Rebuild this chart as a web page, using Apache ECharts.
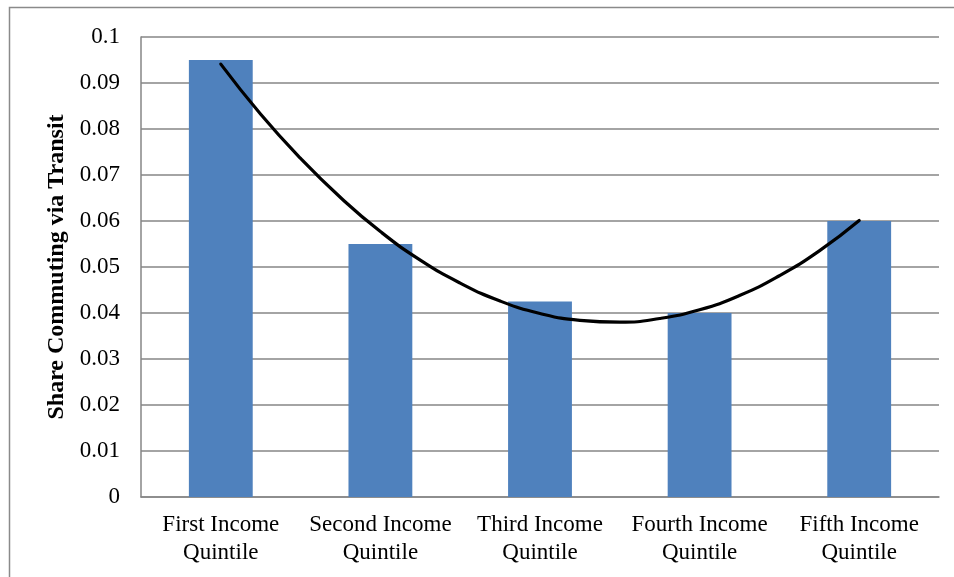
<!DOCTYPE html>
<html>
<head>
<meta charset="utf-8">
<script src="https://cdn.jsdelivr.net/npm/echarts@6/dist/echarts.min.js"></script>
<style>
html,body{margin:0;padding:0;background:#fff;}
#chart{width:954px;height:577px;}
</style>
</head>
<body>
<div id="chart"></div>
<script>
// Data
const categories = ["First Income Quintile", "Second Income Quintile", "Third Income Quintile", "Fourth Income Quintile", "Fifth Income Quintile"];
const shareTransit = [0.095, 0.055, 0.0425, 0.040, 0.060];
// Polynomial (order 2) trend line as seen in the picture, sampled at quarter-category steps
const trendX = [1, 1.25, 1.5, 1.75, 2, 2.25, 2.5, 2.75, 3, 3.25, 3.5, 3.75, 4, 4.25, 4.5, 4.75, 5];
const trendY = [0.0941, 0.0832, 0.0736, 0.0651, 0.0577, 0.0515, 0.0465, 0.0426, 0.0399, 0.0384, 0.0380, 0.0388, 0.0407, 0.0438, 0.0481, 0.0535, 0.0601];
const yTicks = {min: 0, max: 0.1, step: 0.01};
const yTitle = "Share Commuting via Transit";

const font = "'Liberation Serif', 'Times New Roman', serif";
const chart = echarts.init(document.getElementById('chart'), null, {renderer: 'canvas'});
chart.setOption({
  animation: false,
  backgroundColor: '#ffffff',
  graphic: [{
    type: 'rect', silent: true, z: 100,
    shape: {x: 9.5, y: 7.5, width: 1000, height: 1000},
    style: {fill: 'none', stroke: '#8a8a8a', lineWidth: 1.5}
  }],
  grid: {left: 141, right: 15, top: 37, bottom: 80, containLabel: false},
  xAxis: [{
    type: 'category',
    data: categories,
    axisLine: {show: true, lineStyle: {color: '#868686', width: 1.5}},
    axisTick: {show: false},
    axisLabel: {
      interval: 0,
      color: '#000',
      fontFamily: font,
      fontSize: 23,
      lineHeight: 28,
      margin: 14,
      formatter: v => v.replace(' Quintile', '\nQuintile')
    }
  }, {
    type: 'value', min: 0.5, max: 5.5, show: false
  }],
  yAxis: {
    type: 'value',
    min: yTicks.min, max: yTicks.max, interval: yTicks.step,
    name: yTitle,
    nameLocation: 'middle',
    nameGap: 71,
    nameTextStyle: {fontFamily: font, fontSize: 24, fontWeight: 'bold', color: '#000'},
    axisLine: {show: true, lineStyle: {color: '#868686', width: 1.5}},
    axisTick: {show: false},
    splitLine: {show: true, lineStyle: {color: '#868686', width: 1.5}},
    axisLabel: {
      color: '#000', fontFamily: font, fontSize: 23, margin: 21,
      formatter: v => String(+v.toFixed(2))
    }
  },
  series: [{
    type: 'bar',
    data: shareTransit,
    barWidth: '40%',
    itemStyle: {color: '#4F81BD'},
    z: 2
  }, {
    type: 'line',
    xAxisIndex: 1,
    data: trendX.map((x, i) => [x, trendY[i]]),
    smooth: true,
    showSymbol: false,
    lineStyle: {color: '#000', width: 3.2, cap: 'round'},
    z: 3
  }]
});
</script>
</body>
</html>
